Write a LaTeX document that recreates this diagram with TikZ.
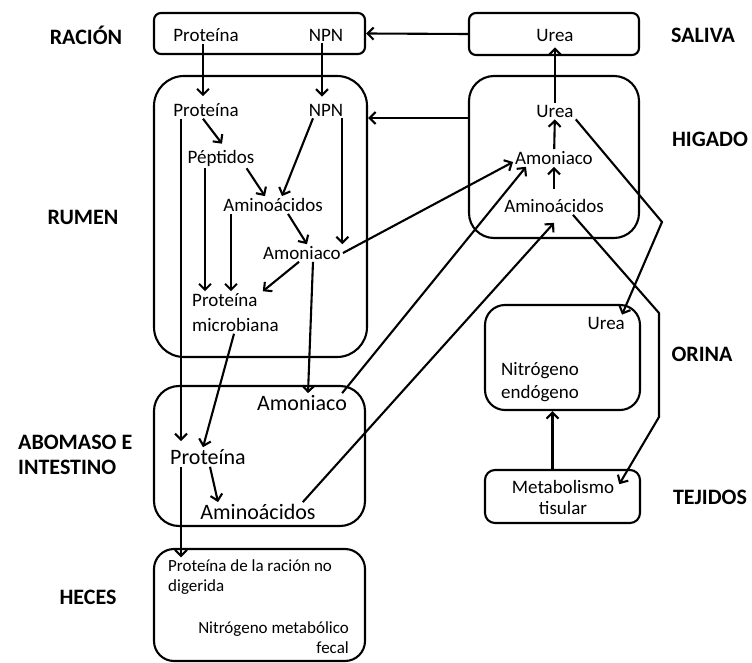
\documentclass[tikz,border=0pt]{standalone}
\usepackage{fontspec}
\setmainfont{Carlito}
\usetikzlibrary{arrows.meta}
\begin{document}
\begin{tikzpicture}[x=1pt,y=-1pt,
  box/.style={draw, line width=2.1pt, inner sep=0pt},
  txt/.style={inner sep=2pt, font=\fontsize{19}{23}\selectfont},
  big/.style={inner sep=2pt, font=\fontsize{22}{25}\selectfont},
  small/.style={inner sep=2pt, font=\fontsize{17}{20}\selectfont},
  lbl/.style={inner sep=0pt, font=\bfseries\fontsize{22}{25}\selectfont},
  arr/.style={line width=2.1pt, -{Straight Barb[length=6pt,width=12pt]}},
  ln/.style={line width=2.1pt}
]
\useasboundingbox (0,0) rectangle (752,663);

% boxes
\node[box, rounded corners=7pt, minimum width=211pt, minimum height=41pt] (racion) at (259.5,33.5) {};
\node[box, rounded corners=30pt, minimum width=213pt, minimum height=281pt] (rumen) at (260.5,216.5) {};
\node[box, rounded corners=25pt, minimum width=211pt, minimum height=140pt] (abomaso) at (259.5,456) {};
\node[box, rounded corners=20pt, minimum width=211pt, minimum height=112pt] (heces) at (259.5,605) {};
\node[box, rounded corners=7pt, minimum width=170pt, minimum height=42pt] (saliva) at (554,34) {};
\node[box, rounded corners=25pt, minimum width=170pt, minimum height=162pt] (higado) at (554,157) {};
\node[box, rounded corners=20pt, minimum width=155pt, minimum height=105pt] (orina) at (562.5,357.5) {};
\node[box, rounded corners=10pt, minimum width=155pt, minimum height=53pt] (tejidos) at (562.5,496.5) {};

% labels
\node[lbl] (lRacion) at (86,35) {RACIÓN};
\node[lbl] (lRumen) at (83,217) {RUMEN};
\node[lbl, anchor=west, align=left] (lAbomaso) at (18,454.5) {ABOMASO E\\INTESTINO};
\node[lbl] (lHeces) at (88,597) {HECES};
\node[lbl] (lSaliva) at (703,35) {SALIVA};
\node[lbl] (lHigado) at (710,139) {HIGADO};
\node[lbl] (lOrina) at (702,354) {ORINA};
\node[lbl] (lTejidos) at (710,497) {TEJIDOS};

% texts
\node[txt] (raP) at (206,35) {Proteína};
\node[txt] (raN) at (326,35) {NPN};
\node[txt] (ruP) at (206,110) {Proteína};
\node[txt] (ruN) at (326,110) {NPN};
\node[txt] (pep) at (221,158) {Péptidos};
\node[txt] (ami) at (273,205) {Aminoácidos};
\node[txt] (amo) at (302,253) {Amoniaco};
\node[txt, anchor=west, align=left, font=\fontsize{19}{25}\selectfont] (pm) at (190,312.5) {Proteína\\microbiana};
\node[big] (abAmo) at (302,403) {Amoniaco};
\node[big] (abP) at (208,457) {Proteína};
\node[big] (abAmi) at (258,512) {Aminoácidos};
\node[small, anchor=west, align=left] (heP) at (166,577) {Proteína de la ración no\\digerida};
\node[small, anchor=east, align=right] (heN) at (351,638) {Nitrógeno metabólico\\fecal};
\node[txt] (saU) at (555,35) {Urea};
\node[txt] (hU) at (555,111) {Urea};
\node[txt] (hAmo) at (554,158) {Amoniaco};
\node[txt] (hAmi) at (554,206) {Aminoácidos};
\node[txt, anchor=east] (oU) at (627,323) {Urea};
\node[txt, anchor=west, align=left] (oN) at (499,382.5) {Nitrógeno\\endógeno};
\node[txt, align=center, font=\fontsize{19}{21}\selectfont] (tM) at (563,497.5) {Metabolismo\\tisular};

% bend points
\coordinate (b1) at (662,222);
\coordinate (b2) at (659,313);
\coordinate (b3) at (659,417);

% connectors
\draw[arr, shorten >=5pt] ([xshift=-3pt]raP.south) -- ([xshift=-3pt]ruP.north);
\draw[arr, shorten >=5pt] ([xshift=-4pt]raN.south) -- ([xshift=-4pt]ruN.north);
\draw[arr] ([xshift=-3pt]ruP.south) -- ([xshift=1pt,yshift=4pt]pep.north);
\draw[arr] ([xshift=-13pt]ruN.south) -- ([xshift=9pt]ami.north);
\draw[arr] ([xshift=-10pt]pep.south east) -- ([xshift=-8pt]ami.north);
\draw[arr] ([xshift=-3pt]ruN.south east) -- ([xshift=-3pt]ruN.south east |- amo.north);
\draw[arr, shorten >=6pt] ([xshift=-25pt]ruP.south) -- ([xshift=-25pt]ruP.south |- abP.north);
\draw[arr] ([xshift=-16pt]pep.south) -- ([xshift=-16pt]pep.south |- pm.north);
\draw[arr] ([xshift=-42pt]ami.south) -- ([xshift=-42pt]ami.south |- pm.north);
\draw[arr] ([xshift=15pt]ami.south) -- ([xshift=5pt]amo.north);
\draw[arr] ([xshift=-3pt]amo.south) -- ([xshift=-18pt]pm.north east);
\draw[arr] ([xshift=11pt]amo.south) -- ([xshift=6pt]abAmo.north);
\draw[arr] ([xshift=44pt]pm.south west) -- ([xshift=-5pt]abP.north);
\draw[arr] ([xshift=-27pt]abP.south) -- ([xshift=-27pt]abP.south |- heP.north);
\draw[arr] ([xshift=2pt]abP.south) -- ([xshift=-40pt]abAmi.north);
\draw[arr] (amo.east) -- ([yshift=-4pt]hAmo.west);
\draw[arr] ([xshift=-7pt]abAmo.north east) -- ([xshift=13pt]hAmo.south west);
\draw[arr] ([xshift=-15pt]abAmi.north east) -- ([yshift=-8pt]hAmi.south);
\draw[arr, shorten <=8pt] (hAmi) -- (hAmo);
\draw[arr] (hAmo) -- (hU);
\draw[arr, shorten >=4pt] (hU) -- (saU);
\draw[arr] (saliva.west) -- (racion.east);
\draw[arr] ([yshift=39pt]higado.west) -- ([yshift=39pt]higado.west -| rumen.east);
\draw[arr] (hU.south east) -- (b1) -- ([xshift=-5pt]oU.north east);
\draw[arr] ([xshift=-33pt]hAmi.south east) -- (b2) -- (b3) -- ([xshift=3pt,yshift=-6pt]tM.north east);
\draw[arr] ([xshift=-10pt]tejidos.north) -- ([xshift=-10pt]orina.south);
\end{tikzpicture}
\end{document}
